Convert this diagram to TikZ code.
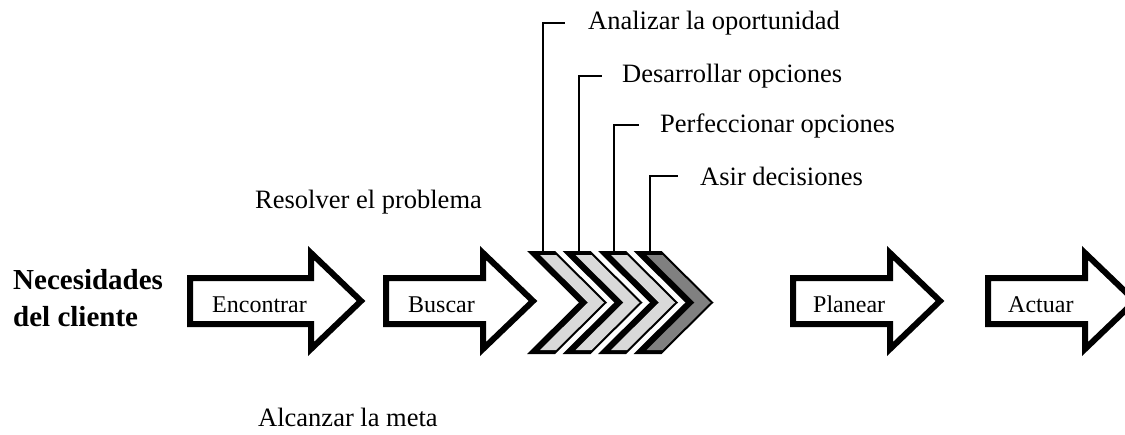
\documentclass[tikz,border=0pt]{standalone}
\usepackage{fontspec}
\setmainfont{Liberation Serif}
\definecolor{chevlight}{HTML}{D9D9D9}
\definecolor{chevdark}{HTML}{808080}
\newcommand\shaftarrow[2]{%
  \draw[bigarrow] ({#1+3},278) -- ({#1+#2},278) -- ({#1+#2},253) -- ({#1+#2+50},301)
    -- ({#1+#2},349) -- ({#1+#2},324) -- ({#1+3},324) -- cycle;}
\newcommand\chevronat[2]{%
  \fill[black] (#1,251) -- ({#1+28},251) -- ({#1+80},302.5) -- ({#1+28},354) -- (#1,354) -- ({#1+52},302.5) -- cycle;
  \fill[#2] ({#1+13},255) -- ({#1+29},255) -- ({#1+77},302.5) -- ({#1+29},350) -- ({#1+13},350) -- ({#1+61},302.5) -- cycle;}
\begin{document}
\begin{tikzpicture}[x=1pt,y=-1pt,
  bigarrow/.style={draw=black, line width=6pt, fill=white, line join=miter},
  lbl/.style={inner sep=0pt, anchor=base west, font=\fontsize{26.5}{30}\selectfont},
  albl/.style={inner sep=0pt, anchor=base west, font=\fontsize{24}{28}\selectfont},
  leader/.style={draw=black, line width=2pt}]
\useasboundingbox (0,0) rectangle (1125,434);

% left title
\node[inner sep=0pt, anchor=base west, align=left,
      font=\bfseries\fontsize{29}{37}\selectfont] (nec) at (13,326) {Necesidades\\del cliente};

% big arrows
\shaftarrow{187}{124}
\node[albl] (enc) at (212,312) {Encontrar};
\shaftarrow{383}{100}
\node[albl] (bus) at (408,312) {Buscar};
\shaftarrow{790}{100}
\node[albl] (pla) at (813,312) {Planear};
\shaftarrow{985}{100}
\node[albl] (act) at (1008,312) {Actuar};

% chevrons
\chevronat{527}{chevlight}
\chevronat{562.5}{chevlight}
\chevronat{598}{chevlight}
\chevronat{633.5}{chevdark}
\coordinate (c1) at (543,251);
\coordinate (c2) at (578.5,251);
\coordinate (c3) at (614,251);
\coordinate (c4) at (649.5,251);

% stage labels
\node[lbl] (l1) at (588,29) {Analizar la oportunidad};
\node[lbl] (l2) at (622,82) {Desarrollar opciones};
\node[lbl] (l3) at (660,132) {Perfeccionar opciones};
\node[lbl] (l4) at (700,185) {Asir decisiones};
\draw[leader] (c1) |- ([xshift=-23pt]l1.west);
\draw[leader] (c2) |- ([xshift=-20pt]l2.west);
\draw[leader] (c3) |- ([xshift=-21pt]l3.west);
\draw[leader] (c4) |- ([xshift=-22pt]l4.west);

% other texts
\node[lbl] (res) at (255,208) {Resolver el problema};
\node[lbl] (alc) at (258,426) {Alcanzar la meta};
\end{tikzpicture}
\end{document}
